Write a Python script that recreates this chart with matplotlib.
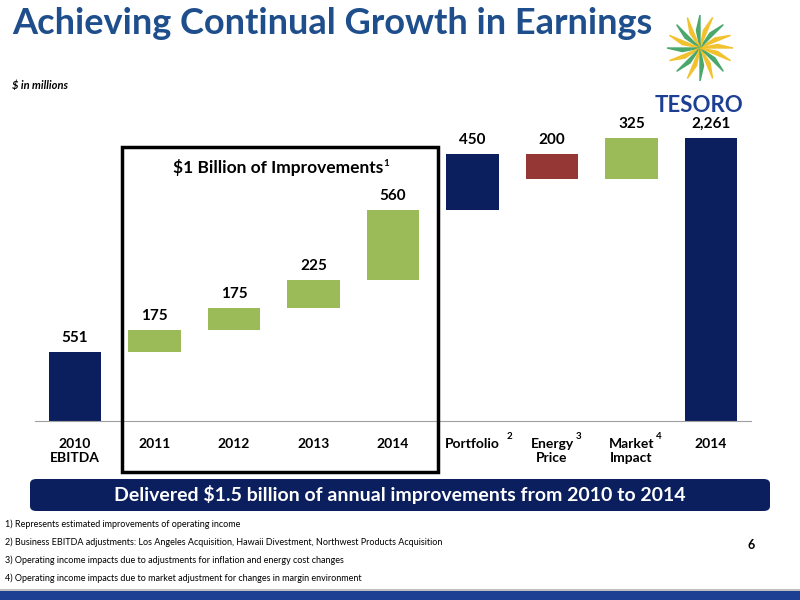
import matplotlib
matplotlib.use("Agg")
import matplotlib.pyplot as plt
from matplotlib.patches import Rectangle, FancyBboxPatch, Polygon
import numpy as np

plt.rcParams['font.family'] = ['Lato', 'DejaVu Sans']

categories = ["2010\nEBITDA", "2011", "2012", "2013", "2014",
              "Portfolio", "Energy\nPrice", "Market\nImpact", "2014"]
sups = ["", "", "", "", "", "2", "3", "4", ""]
changes = [551, 175, 175, 225, 560, 450, -200, 325]
total = 2261
value_labels = ["551", "175", "175", "225", "560", "450", "200", "325", "2,261"]

NAVY = "#0B1F5E"
GREEN = "#9BBB59"
RED = "#953735"
TITLE = "#1F4E8C"

fig = plt.figure(figsize=(8, 6), dpi=100)
W, H = 800, 600

def fx(px): return px / W
def fy(py): return 1 - py / H

# title
fig.text(fx(12), fy(24), "Achieving Continual Growth in Earnings", fontsize=26,
         fontweight="bold", color=TITLE, va="center", ha="left")
fig.text(fx(12), fy(86), "$ in millions", fontsize=8, fontweight="bold",
         fontstyle="italic", va="center")

# logo
lx, ly = fx(700), fy(48)
for ang in np.linspace(0, 2 * np.pi, 16, endpoint=False):
    pts = [(lx, ly), (lx + 0.055 * np.cos(ang) * 0.75, ly + 0.055 * np.sin(ang)),
           (lx + 0.03 * np.cos(ang + 0.2) * 0.75, ly + 0.03 * np.sin(ang + 0.2))]
    fig.patches.append(Polygon(pts, closed=True, transform=fig.transFigure,
                               color="#F2C12E" if ang % 0.8 < 0.4 else "#4BA86C", zorder=1))
fig.text(fx(699), fy(106), "TESORO", fontsize=16, fontweight="bold",
         color="#1C3F94", ha="center", va="center")

# chart
left, right = 75 - 39.75, 711 + 39.75
base, top = 421, 421 - 2600 * 0.125
ax = fig.add_axes([fx(left), fy(base), (right - left) / W, (base - top) / H])
ax.set_xlim(-0.5, 8.5)
ax.set_ylim(0, 2600)
x = np.arange(len(categories))
cum = 0
bottoms, heights, colors = [], [], []
for i, c in enumerate(changes):
    if c >= 0:
        bottoms.append(cum); heights.append(c)
    else:
        bottoms.append(cum + c); heights.append(-c)
    colors.append(NAVY if i in (0, 5) else (RED if c < 0 else GREEN))
    cum += c
bottoms.append(0); heights.append(total); colors.append(NAVY)
ax.bar(x, heights, bottom=bottoms, width=0.66, color=colors)
for xi, b, h, lab in zip(x, bottoms, heights, value_labels):
    ax.text(xi, b + h + 60, lab, ha="center", va="bottom", fontsize=11, fontweight="bold")
for s in ["top", "right", "left"]:
    ax.spines[s].set_visible(False)
ax.spines["bottom"].set_color("#A0A0A0")
ax.set_yticks([])
ax.set_xticks(x)
ax.set_xticklabels(categories, fontsize=10, fontweight="bold", va="top")
ax.tick_params(axis="x", length=0, pad=12)
sup_dx = {5: 0.43, 6: 0.3, 7: 0.31}
for xi, s in zip(x, sups):
    if s:
        ax.text(xi + sup_dx[xi], -125, s, fontsize=7, fontweight="bold", va="center",
                transform=ax.transData, clip_on=False)

# improvement box
fig.patches.append(Rectangle((fx(122), fy(472)), (438 - 122) / W, (472 - 147) / H,
                             transform=fig.transFigure, fill=False, ec="black", lw=2.5))
fig.text(fx(278), fy(168), "$1 Billion of Improvements", fontsize=12.5, fontweight="bold",
         ha="center", va="center")
fig.text(fx(383), fy(163), "1", fontsize=7, fontweight="bold", va="center")

# banner
fig.patches.append(FancyBboxPatch((fx(30), fy(511)), (770 - 30) / W, (511 - 479) / H,
                                  boxstyle="round,pad=0,rounding_size=0.008",
                                  transform=fig.transFigure, fc=NAVY, ec="none"))
fig.text(fx(400), fy(495), "Delivered $1.5 billion of annual improvements from 2010 to 2014",
         fontsize=14, fontweight="bold", color="white", ha="center", va="center")

notes = ["1) Represents estimated improvements of operating income",
         "2) Business EBITDA adjustments: Los Angeles Acquisition, Hawaii Divestment, Northwest Products Acquisition",
         "3) Operating income impacts due to adjustments for inflation and energy cost changes",
         "4) Operating income impacts due to market adjustment for changes in margin environment"]
for i, n in enumerate(notes):
    fig.text(fx(5), fy(524 + 18 * i), n, fontsize=6.5, va="center")
fig.text(fx(748), fy(545), "6", fontsize=9, fontweight="bold", va="center")

# bottom strip
fig.patches.append(Rectangle((0, 0), 1, 9 / H, transform=fig.transFigure, fc="#1C3F94", ec="none"))
fig.patches.append(Rectangle((0, 9 / H), 1, 2 / H, transform=fig.transFigure, fc="#BFBFBF", ec="none"))

fig.savefig("out.png", dpi=100)
